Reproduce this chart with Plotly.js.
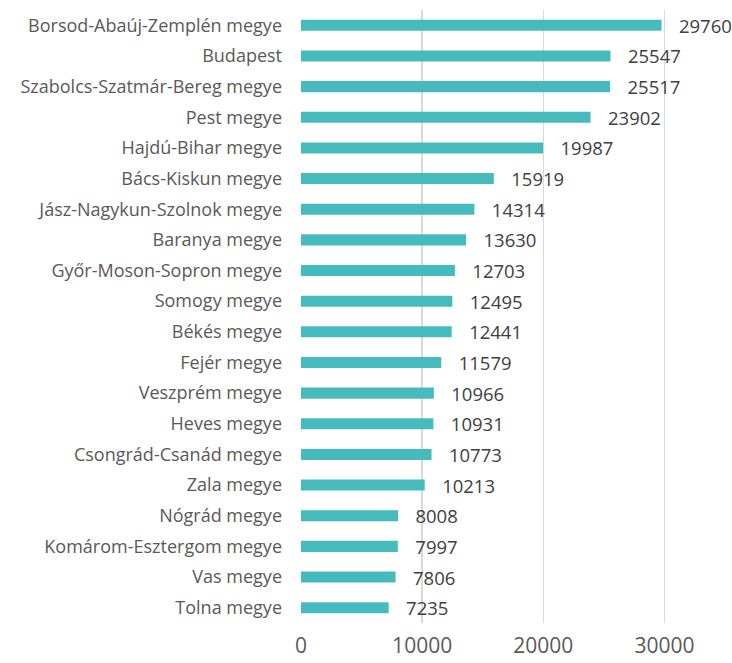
<!DOCTYPE html>
<html><head><meta charset="utf-8">
<script src="https://cdn.plot.ly/plotly-3.0.1.min.js"></script>
<style>body{margin:0;background:#fff}#c{width:732px;height:663px}</style>
</head><body><div id="c"></div>
<script>
const counties = ["Borsod-Abaúj-Zemplén megye","Budapest","Szabolcs-Szatmár-Bereg megye","Pest megye","Hajdú-Bihar megye","Bács-Kiskun megye","Jász-Nagykun-Szolnok megye","Baranya megye","Győr-Moson-Sopron megye","Somogy megye","Békés megye","Fejér megye","Veszprém megye","Heves megye","Csongrád-Csanád megye","Zala megye","Nógrád megye","Komárom-Esztergom megye","Vas megye","Tolna megye"];
const values = [29760,25547,25517,23902,19987,15919,14314,13630,12703,12495,12441,11579,10966,10931,10773,10213,8008,7997,7806,7235];
const xTicks = [0,10000,20000,30000];

const font = "Open Sans, Liberation Sans, sans-serif";
Plotly.newPlot('c', [{
  type: 'bar', orientation: 'h',
  y: counties, x: values,
  marker: {color: '#46BBBD'},
  width: 0.36,
  text: values.map(v => '\u00a0\u00a0\u00a0' + v),
  textposition: 'outside',
  constraintext: 'none',
  textfont: {family: font, size: 18.5, color: '#404040'},
  cliponaxis: false,
  hoverinfo: 'none'
}], {
  width: 732, height: 663,
  margin: {l: 301, r: 7, t: 10, b: 40},
  paper_bgcolor: '#fff', plot_bgcolor: '#fff',
  showlegend: false,
  xaxis: {range: [0, 35000], tickvals: xTicks, ticktext: xTicks.map(String),
    showgrid: true, gridcolor: '#D9D9D9', gridwidth: 1.5, zeroline: false,
    showline: false, ticks: '', ticklabelstandoff: 8,
    tickfont: {family: font, size: 21, color: '#595959'}, fixedrange: true},
  yaxis: {autorange: 'reversed', showgrid: false, zeroline: false, showline: false,
    ticks: '', ticklabelstandoff: 18,
    tickfont: {family: font, size: 18, color: '#595959'}, fixedrange: true}
}, {displayModeBar: false, staticPlot: true});
</script></body></html>
